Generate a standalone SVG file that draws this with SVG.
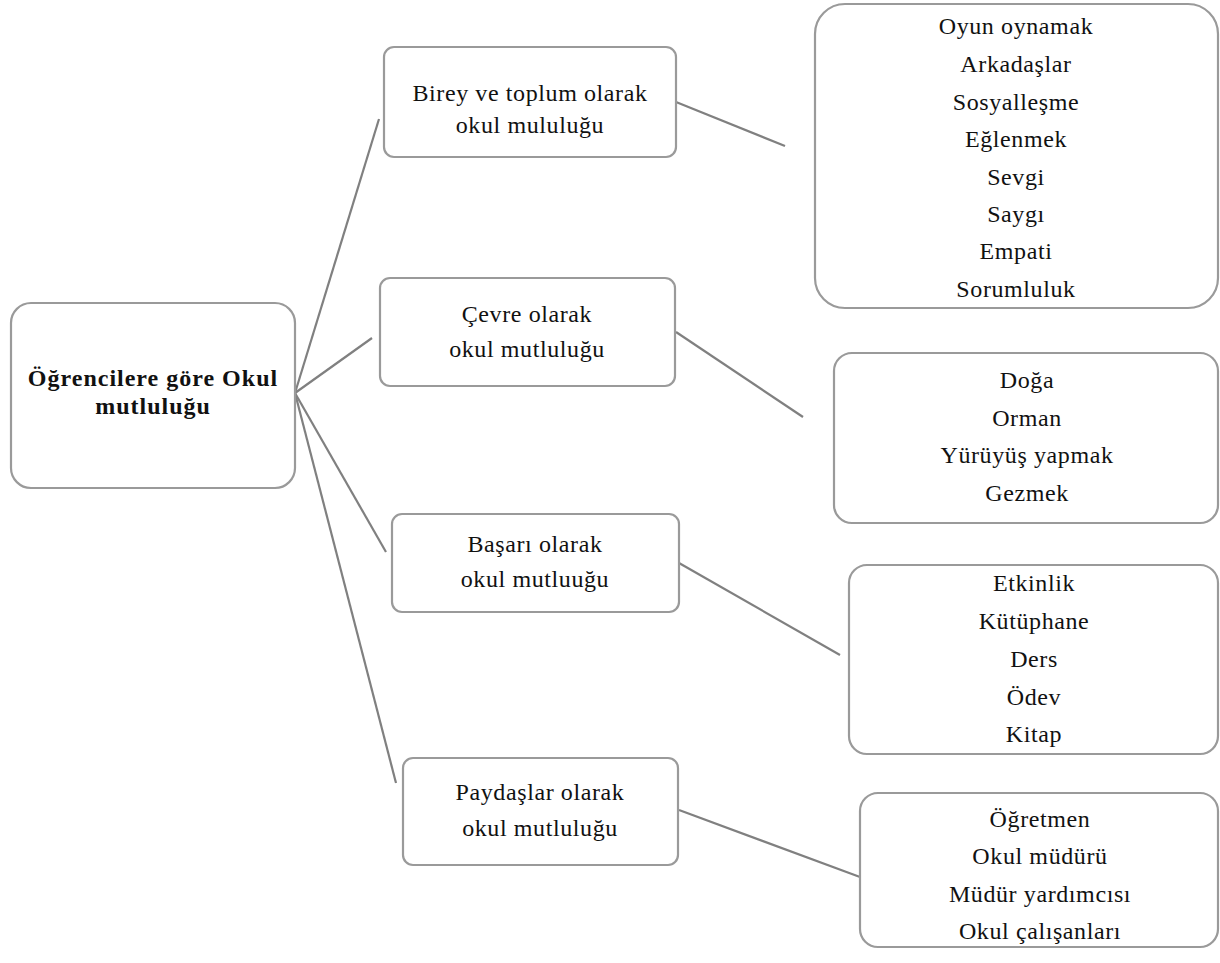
<svg xmlns="http://www.w3.org/2000/svg" width="1220" height="963" viewBox="0 0 1220 963">
<style>
.box{fill:#fff;stroke:#9a9a9a;stroke-width:2.2}
.t{font-family:"Liberation Serif","Times New Roman",serif;font-size:24px;letter-spacing:0.6px;fill:#111;text-anchor:middle}
.b{font-weight:bold;font-size:24px;letter-spacing:1px}
.c{stroke:#808080;stroke-width:2.2;fill:none}
</style>
<rect width="1220" height="963" fill="#fff"/>
<g id="connectors">
<line class="c" x1="295" y1="393" x2="379" y2="119"/>
<line class="c" x1="295" y1="393" x2="372" y2="338"/>
<line class="c" x1="295" y1="393" x2="386" y2="552"/>
<line class="c" x1="295" y1="393" x2="396" y2="783"/>
<line class="c" x1="676" y1="102" x2="785" y2="146"/>
<line class="c" x1="676" y1="332" x2="803" y2="417"/>
<line class="c" x1="679" y1="563" x2="840" y2="655"/>
<line class="c" x1="679" y1="810" x2="860" y2="877"/>
</g>
<g id="root">
<rect class="box" x="11" y="303" width="284" height="185" rx="20"/>
<text class="t b" x="153" y="386">Öğrencilere göre Okul</text>
<text class="t b" x="153" y="414">mutluluğu</text>
</g>
<g id="n1">
<rect class="box" x="384" y="47" width="292" height="110" rx="10"/>
<text class="t" x="530" y="101">Birey ve toplum olarak</text>
<text class="t" x="530" y="133">okul mululuğu</text>
</g>
<g id="n2">
<rect class="box" x="380" y="278" width="295" height="108" rx="10"/>
<text class="t" x="527" y="322">Çevre olarak</text>
<text class="t" x="527" y="357">okul mutluluğu</text>
</g>
<g id="n3">
<rect class="box" x="392" y="514" width="287" height="98" rx="10"/>
<text class="t" x="535" y="552">Başarı olarak</text>
<text class="t" x="535" y="587">okul mutluuğu</text>
</g>
<g id="n4">
<rect class="box" x="403" y="758" width="275" height="107" rx="10"/>
<text class="t" x="540" y="800">Paydaşlar olarak</text>
<text class="t" x="540" y="836">okul mutluluğu</text>
</g>
<g id="r1">
<rect class="box" x="815" y="4" width="403" height="304" rx="30"/>
<text class="t" x="1016" y="34">Oyun oynamak</text>
<text class="t" x="1016" y="72">Arkadaşlar</text>
<text class="t" x="1016" y="110">Sosyalleşme</text>
<text class="t" x="1016" y="147">Eğlenmek</text>
<text class="t" x="1016" y="185">Sevgi</text>
<text class="t" x="1016" y="222">Saygı</text>
<text class="t" x="1016" y="259">Empati</text>
<text class="t" x="1016" y="297">Sorumluluk</text>
</g>
<g id="r2">
<rect class="box" x="834" y="353" width="384" height="170" rx="18"/>
<text class="t" x="1027" y="388">Doğa</text>
<text class="t" x="1027" y="426">Orman</text>
<text class="t" x="1027" y="463">Yürüyüş yapmak</text>
<text class="t" x="1027" y="501">Gezmek</text>
</g>
<g id="r3">
<rect class="box" x="849" y="565" width="369" height="189" rx="18"/>
<text class="t" x="1034" y="591">Etkinlik</text>
<text class="t" x="1034" y="629">Kütüphane</text>
<text class="t" x="1034" y="667">Ders</text>
<text class="t" x="1034" y="705">Ödev</text>
<text class="t" x="1034" y="742">Kitap</text>
</g>
<g id="r4">
<rect class="box" x="860" y="793" width="358" height="154" rx="18"/>
<text class="t" x="1040" y="827">Öğretmen</text>
<text class="t" x="1040" y="864">Okul müdürü</text>
<text class="t" x="1040" y="902">Müdür yardımcısı</text>
<text class="t" x="1040" y="939">Okul çalışanları</text>
</g>
</svg>
